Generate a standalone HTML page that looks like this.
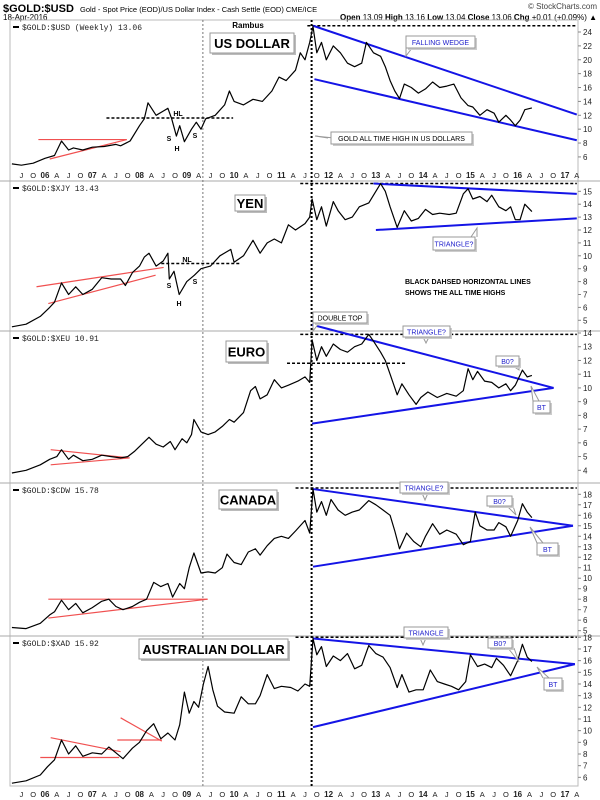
<!DOCTYPE html>
<html><head><meta charset="utf-8"><title>$GOLD:$USD multi-currency chart</title>
<style>
body{margin:0;background:#fff;width:600px;height:800px;overflow:hidden;font-family:"Liberation Sans",sans-serif;}
svg{display:block}
</style></head>
<body>
<svg id="chart" width="600" height="800" viewBox="0 0 600 800" xmlns="http://www.w3.org/2000/svg">
<rect x="0" y="0" width="600" height="800" fill="#fff"/>
<text x="3" y="12" font-size="11" font-weight="bold" fill="#000">$GOLD:$USD</text>
<text x="80" y="12" font-size="7.5" fill="#000">Gold - Spot Price (EOD)/US Dollar Index - Cash Settle (EOD) CME/ICE</text>
<text x="3" y="20" font-size="8" fill="#000">18-Apr-2016</text>
<text x="597" y="9" font-size="8" fill="#444" text-anchor="end">© StockCharts.com</text>
<text x="597" y="20" font-size="8" fill="#000" text-anchor="end"><tspan font-weight="bold">Open</tspan> 13.09 <tspan font-weight="bold">High</tspan> 13.16 <tspan font-weight="bold">Low</tspan> 13.04 <tspan font-weight="bold">Close</tspan> 13.06 <tspan font-weight="bold">Chg</tspan> +0.01 (+0.09%) ▲</text>
<g id="layer"></g>
</svg>
<script>
// ---------- DATA ----------
const p1Times=[2005.3,2005.5,2005.75,2006.0,2006.2,2006.35,2006.5,2006.6,2006.8,2007.0,2007.25,2007.5,2007.6,2007.8,2008.0,2008.1,2008.18,2008.35,2008.5,2008.6,2008.68,2008.78,2008.85,2008.95,2009.1,2009.2,2009.3,2009.4,2009.6,2009.8,2009.9,2010.0,2010.2,2010.4,2010.6,2010.8,2010.95,2011.1,2011.3,2011.4,2011.5,2011.6,2011.67,2011.75,2011.85,2011.95,2012.1,2012.25,2012.4,2012.55,2012.7,2012.8,2012.95,2013.1,2013.2,2013.3,2013.4,2013.5,2013.6,2013.75,2013.9,2014.05,2014.2,2014.35,2014.5,2014.65,2014.8,2014.95,2015.05,2015.2,2015.35,2015.5,2015.6,2015.75,2015.85,2015.95,2016.05,2016.15,2016.3];
const p1Values=[5.0,4.8,5.1,5.8,6.2,8.3,7.0,7.3,7.0,7.4,7.5,7.8,7.6,8.3,10.5,11.5,13.8,12.0,12.6,13.0,11.5,9.0,10.5,8.2,10.0,11.0,10.0,11.5,12.0,13.5,15.5,14.0,13.5,14.3,14.0,15.5,17.5,17.0,18.5,21.0,20.0,22.5,24.8,21.0,22.5,20.0,22.0,21.0,19.5,19.0,19.5,22.5,21.0,20.5,19.0,17.0,15.5,14.4,16.5,16.0,15.2,15.8,16.8,16.0,16.2,16.5,14.5,13.4,13.2,12.0,12.8,12.3,11.0,12.0,11.3,10.5,11.3,12.8,13.06];
const p2Times=[2005.3,2005.6,2005.9,2006.1,2006.2,2006.35,2006.5,2006.65,2006.8,2007.0,2007.2,2007.4,2007.6,2007.7,2007.85,2008.0,2008.1,2008.2,2008.35,2008.5,2008.6,2008.63,2008.73,2008.84,2009.0,2009.16,2009.3,2009.5,2009.7,2009.93,2010.0,2010.2,2010.4,2010.55,2010.7,2010.85,2011.0,2011.15,2011.3,2011.5,2011.6,2011.65,2011.75,2011.85,2011.95,2012.1,2012.2,2012.35,2012.5,2012.65,2012.85,2013.1,2013.2,2013.3,2013.45,2013.6,2013.75,2013.9,2014.05,2014.2,2014.35,2014.55,2014.7,2014.85,2014.95,2015.05,2015.2,2015.35,2015.45,2015.6,2015.75,2015.85,2015.95,2016.05,2016.15,2016.3];
const p2Values=[4.5,4.7,5.3,6.0,6.4,7.9,7.0,7.6,7.0,7.4,8.3,8.2,8.2,7.7,8.7,9.2,9.9,10.2,9.2,9.6,10.2,8.2,8.8,7.0,8.0,8.5,9.0,9.2,10.0,10.5,9.5,10.0,11.2,10.2,11.0,11.3,11.0,12.4,12.0,12.5,13.0,14.4,12.8,13.8,12.3,14.2,13.5,12.8,13.0,13.8,14.1,15.6,15.0,13.8,12.2,13.5,12.7,12.9,13.6,13.2,13.3,13.2,13.3,14.8,15.2,14.4,14.6,14.2,14.7,13.8,13.5,13.8,12.8,12.8,14.0,13.43];
const p3Times=[2005.3,2005.6,2005.9,2006.1,2006.25,2006.35,2006.5,2006.6,2006.8,2007.0,2007.2,2007.4,2007.6,2007.75,2007.9,2008.05,2008.2,2008.35,2008.5,2008.65,2008.75,2008.9,2009.0,2009.1,2009.15,2009.3,2009.45,2009.6,2009.75,2009.9,2010.0,2010.2,2010.35,2010.45,2010.55,2010.7,2010.85,2011.0,2011.15,2011.35,2011.5,2011.6,2011.65,2011.75,2011.85,2011.95,2012.1,2012.25,2012.4,2012.55,2012.7,2012.85,2012.95,2013.1,2013.2,2013.3,2013.45,2013.55,2013.7,2013.85,2013.95,2014.1,2014.3,2014.5,2014.7,2014.85,2014.95,2015.05,2015.15,2015.3,2015.45,2015.6,2015.75,2015.85,2015.95,2016.1,2016.2,2016.3];
const p3Values=[3.8,4.0,4.4,4.8,5.0,5.5,4.8,5.1,4.7,4.8,5.1,5.0,4.9,5.0,5.4,5.9,6.4,5.9,5.7,6.1,5.5,6.3,6.0,6.6,7.7,6.8,6.6,6.8,7.2,7.7,7.5,8.2,9.8,10.1,9.2,9.5,10.6,10.0,10.2,10.5,10.8,10.4,13.5,12.0,13.0,12.3,13.2,12.8,12.6,13.0,13.2,13.9,13.4,12.6,12.0,11.0,9.5,10.3,9.5,8.8,9.3,9.7,9.3,9.6,9.4,9.8,11.4,10.6,11.2,10.5,10.4,10.0,10.3,9.8,10.2,11.3,10.8,10.91];
const p4Times=[2005.3,2005.6,2005.9,2006.1,2006.2,2006.35,2006.5,2006.65,2006.8,2007.0,2007.2,2007.35,2007.5,2007.65,2007.85,2008.0,2008.15,2008.3,2008.45,2008.6,2008.7,2008.85,2008.95,2009.05,2009.15,2009.3,2009.45,2009.6,2009.75,2009.85,2010.0,2010.15,2010.3,2010.45,2010.55,2010.7,2010.85,2011.0,2011.15,2011.3,2011.5,2011.6,2011.67,2011.75,2011.85,2011.95,2012.05,2012.2,2012.35,2012.5,2012.65,2012.85,2013.0,2013.15,2013.3,2013.4,2013.5,2013.65,2013.8,2013.95,2014.05,2014.2,2014.35,2014.5,2014.7,2014.85,2015.0,2015.1,2015.2,2015.35,2015.5,2015.6,2015.75,2015.85,2016.0,2016.1,2016.2,2016.3];
const p4Values=[5.3,5.2,5.7,6.5,6.8,7.9,7.0,7.6,6.7,7.2,7.8,8.0,7.3,7.0,7.3,7.7,8.0,9.6,9.2,9.5,8.2,9.5,9.0,11.0,12.4,10.5,10.6,10.5,11.0,12.3,11.5,11.3,12.5,12.8,12.2,13.1,13.8,14.0,13.8,14.5,15.5,14.3,18.5,16.3,17.3,16.0,17.5,16.5,16.0,16.3,16.5,17.4,17.0,16.5,16.0,14.5,12.8,14.3,13.5,13.0,14.0,15.2,14.2,14.6,14.2,13.2,13.5,16.3,15.0,14.6,14.6,15.3,14.9,14.0,15.5,17.1,16.3,15.78];
const p5Times=[2005.3,2005.6,2005.9,2006.05,2006.2,2006.35,2006.5,2006.65,2006.8,2007.0,2007.2,2007.35,2007.5,2007.65,2007.85,2008.0,2008.15,2008.3,2008.45,2008.6,2008.75,2008.85,2008.95,2009.05,2009.15,2009.25,2009.35,2009.45,2009.55,2009.65,2009.8,2010.0,2010.15,2010.3,2010.45,2010.55,2010.7,2010.85,2011.0,2011.2,2011.35,2011.5,2011.6,2011.67,2011.75,2011.85,2011.95,2012.1,2012.25,2012.4,2012.55,2012.7,2012.85,2013.0,2013.15,2013.3,2013.45,2013.55,2013.7,2013.85,2014.0,2014.15,2014.3,2014.45,2014.6,2014.75,2014.9,2015.0,2015.15,2015.3,2015.45,2015.55,2015.7,2015.85,2016.0,2016.1,2016.2,2016.3];
const p5Values=[5.5,5.7,6.2,6.9,7.5,9.2,8.0,8.7,7.8,8.1,8.0,8.6,8.1,7.6,8.5,9.0,10.0,10.6,9.3,9.8,9.2,10.5,13.3,11.5,12.5,12.0,14.0,15.5,13.5,12.1,11.6,11.5,12.9,12.3,12.3,13.0,14.8,13.6,13.8,13.7,13.4,14.0,13.8,17.9,16.5,17.2,15.5,16.4,16.0,16.6,15.3,15.6,17.3,16.6,16.3,15.4,13.7,14.8,13.3,13.5,13.5,15.2,14.2,14.0,13.8,13.5,14.2,16.5,15.5,15.7,15.4,16.2,15.6,14.7,16.0,17.4,16.3,15.92];
const p1Ticks=[6,8,10,12,14,16,18,20,22,24];
const p2Ticks=[5,6,7,8,9,10,11,12,13,14,15];
const p3Ticks=[4,5,6,7,8,9,10,11,12,13,14];
const p4Ticks=[5,6,7,8,9,10,11,12,13,14,15,16,17,18];
const p5Ticks=[6,7,8,9,10,11,12,13,14,15,16,17,18];
const monthLabels=['J','O','06','A','J','O','07','A','J','O','08','A','J','O','09','A','J','O','10','A','J','O','11','A','J','O','12','A','J','O','13','A','J','O','14','A','J','O','15','A','J','O','16','A','J','O','17','A'];
const legendTexts=['$GOLD:$USD (Weekly) 13.06','$GOLD:$XJY 13.43','$GOLD:$XEU 10.91','$GOLD:$CDW 15.78','$GOLD:$XAD 15.92'];
const panelTitles=['US DOLLAR','YEN','EURO','CANADA','AUSTRALIAN DOLLAR'];

// ---------- SCALES / LAYOUT ----------
const NS='http://www.w3.org/2000/svg';
const layer=document.getElementById('layer');
const X0=45, PXY=47.27, LEFT=10, RIGHT=578;
function xs(t){return X0+(t-2006)*PXY;}
const panels=[
 {top:20,bottom:181,refV:24,refY:32,k:6.94},
 {top:181,bottom:331,refV:15,refY:191.3,k:12.9},
 {top:331,bottom:483,refV:14,refY:333,k:13.73},
 {top:483,bottom:636,refV:18,refY:494.3,k:10.49},
 {top:636,bottom:786,refV:18,refY:637.3,k:11.67}
];
function ys(p,v){return panels[p].refY+(panels[p].refV-v)*panels[p].k;}
function mk(tag,attrs,parent){const e=document.createElementNS(NS,tag);for(const k in attrs)e.setAttribute(k,attrs[k]);(parent||layer).appendChild(e);return e;}
function txt(x,y,s,size,attrs,parent){const e=mk('text',Object.assign({x:x,y:y,'font-size':size,'font-family':'"Liberation Sans",sans-serif'},attrs||{}),parent);e.textContent=s;return e;}

const seriesT=[p1Times,p2Times,p3Times,p4Times,p5Times];
const seriesV=[p1Values,p2Values,p3Values,p4Values,p5Values];
const ticks=[p1Ticks,p2Ticks,p3Ticks,p4Ticks,p5Ticks];

const frame=mk('rect',{x:LEFT,y:20,width:RIGHT-LEFT,height:766,fill:'none',stroke:'#bbb','stroke-width':1});


panels.forEach((pn,i)=>{
  if(i>0){const s=mk('line',{x1:0,x2:600,y1:pn.top,y2:pn.top,stroke:'#aaa','stroke-width':1});
    
    }
});

ticks.forEach((tk,p)=>{
  const g=mk('g',{});
  
  
  tk.forEach(v=>{
    mk('line',{x1:RIGHT,x2:RIGHT+3,y1:ys(p,v),y2:ys(p,v),stroke:'#888'},g);
    const t=txt(RIGHT+5,ys(p,v)+3,String(v),8,{fill:'#222'},g);
    
    
  });
});

function xLabels(y,name){
  const g=mk('g',{});
  
  
  monthLabels.forEach((s,i)=>{
    const t=2005.5+i*0.25;
    const bold=/\d/.test(s);
    const e=txt(xs(t),y,s,bold?8:7.5,{'text-anchor':'middle',fill:'#222','font-weight':bold?'bold':'normal'},g);
    
    
  });
}
xLabels(178,'x-axis-top-panel');
xLabels(797,'x-axis-bottom');

const v1=mk('line',{x1:xs(2009.34),x2:xs(2009.34),y1:20,y2:786,stroke:'#777','stroke-width':1,'stroke-dasharray':'2,2'});


const v2=mk('line',{x1:xs(2011.64),x2:xs(2011.64),y1:20,y2:786,stroke:'#000','stroke-width':2,'stroke-dasharray':'2,2'});



function seg(p,t1,v1_,t2,v2_,color,w,dash,name){
  const a={x1:xs(t1),y1:ys(p,v1_),x2:xs(t2),y2:ys(p,v2_),stroke:color,'stroke-width':w};
  if(dash)a['stroke-dasharray']=dash;
  const e=mk('line',a);
  
  
}
const BL='#1414e6', RD='#f05050';
seg(0,2011.55,24.9,2017.25,24.9,'#000',1.5,'3,2','ath-line-usd');
seg(1,2011.4,15.6,2017.25,15.6,'#000',1.5,'3,2','ath-line-yen');
seg(2,2011.4,13.9,2017.25,13.9,'#000',1.5,'3,2','ath-line-euro');
seg(3,2011.3,18.6,2017.25,18.6,'#000',1.5,'3,2','ath-line-canada');
seg(4,2011.3,18.0,2017.25,18.0,'#000',1.5,'3,2','ath-line-aud');
seg(0,2007.3,11.6,2009.98,11.6,'#000',1.5,'3,2','neckline-usd');
seg(1,2008.46,9.4,2010.12,9.4,'#000',1.5,'3,2','neckline-yen');
seg(2,2011.12,11.8,2013.64,11.8,'#000',1.5,'3,2','support-line-euro');
seg(0,2011.67,24.9,2017.25,12.1,BL,2,null,'wedge-upper-usd');
seg(0,2011.7,17.2,2017.25,8.4,BL,2,null,'wedge-lower-usd');
seg(1,2012.95,15.6,2017.25,14.8,BL,2,null,'triangle-upper-yen');
seg(1,2013.0,12.0,2017.25,12.9,BL,2,null,'triangle-lower-yen');
seg(2,2011.65,14.6,2016.76,10.0,BL,2,null,'triangle-upper-euro');
seg(2,2011.65,7.4,2016.76,10.0,BL,2,null,'triangle-lower-euro');
seg(3,2011.67,18.5,2017.17,15.0,BL,2,null,'triangle-upper-canada');
seg(3,2011.67,11.1,2017.17,15.0,BL,2,null,'triangle-lower-canada');
seg(4,2011.67,17.9,2017.21,15.7,BL,2,null,'triangle-upper-aud');
seg(4,2011.67,10.3,2017.21,15.7,BL,2,null,'triangle-lower-aud');
seg(0,2005.86,8.5,2007.73,8.5,RD,1.2,null,'red-resistance-usd');
seg(0,2006.1,5.7,2007.73,8.5,RD,1.2,null,'red-support-usd');
seg(1,2005.82,7.6,2008.51,9.1,RD,1.2,null,'red-channel-upper-yen');
seg(1,2006.07,6.3,2008.34,8.5,RD,1.2,null,'red-channel-lower-yen');
seg(2,2006.12,5.5,2007.79,4.9,RD,1.2,null,'red-triangle-upper-euro');
seg(2,2006.12,4.4,2007.79,4.9,RD,1.2,null,'red-triangle-lower-euro');
seg(3,2006.07,8.0,2009.44,8.0,RD,1.2,null,'red-resistance-canada');
seg(3,2006.07,6.2,2009.44,8.0,RD,1.2,null,'red-support-canada');
seg(4,2006.12,9.4,2007.6,8.2,RD,1.2,null,'red-upper-aud-1');
seg(4,2005.9,7.7,2007.57,7.7,RD,1.2,null,'red-support-aud-1');
seg(4,2007.6,11.1,2008.47,9.1,RD,1.2,null,'red-upper-aud-2');
seg(4,2007.53,9.2,2008.47,9.2,RD,1.2,null,'red-support-aud-2');

const seriesNames=['price-line-usd','price-line-yen','price-line-euro','price-line-canada','price-line-aud'];
seriesT.forEach((T,p)=>{
  const V=seriesV[p];
  const d=T.map((t,i)=>(i?'L':'M')+xs(t).toFixed(1)+','+ys(p,V[i]).toFixed(1)).join(' ');
  const e=mk('path',{d:d,fill:'none',stroke:'#000','stroke-width':1.2,'stroke-linejoin':'round'});
  
  
});

legendTexts.forEach((s,p)=>{
  const y=panels[p].top+7;
  mk('line',{x1:13,x2:19,y1:y,y2:y,stroke:'#000','stroke-width':2});
  const e=txt(22,y+3,s,8,{'font-family':'"Liberation Mono",monospace',fill:'#222'});
  
  
});

const titleBoxes=[[210,33,84,20],[235,195,30,16],[226,341,41,21],[219,490,58,19],[139,639,149,20]];
titleBoxes.forEach((b,i)=>{
  mk('rect',{x:b[0]+2,y:b[1]+2,width:b[2],height:b[3],fill:'#bbb'});
  mk('rect',{x:b[0],y:b[1],width:b[2],height:b[3],fill:'#fff',stroke:'#999'});
  const e=txt(b[0]+b[2]/2,b[1]+b[3]/2+5,panelTitles[i],13,{'text-anchor':'middle','font-weight':'bold',fill:'#000'});
  
  
});

function callout(x,y,w,h,s,color,px,py,fx,fy,name){
  if(px!==null){mk('polyline',{points:(fx-3)+','+fy+' '+px+','+py+' '+(fx+3)+','+fy,fill:'#fff',stroke:'#999'});}
  mk('rect',{x:x+2,y:y+2,width:w,height:h,fill:'#ccc'});
  mk('rect',{x:x,y:y,width:w,height:h,fill:'#fff',stroke:'#999'});
  const e=txt(x+w/2,y+h/2+3,s,7,{'text-anchor':'middle',fill:color});
  
  
}
callout(406,36,69,12,'FALLING WEDGE','#2222cc',406,56,409,48,'callout-falling-wedge');
callout(331,132,141,12,'GOLD ALL TIME HIGH IN US DOLLARS','#000',315,136,331,138,'callout-gold-ath');
callout(433,237,42,13,'TRIANGLE?','#2222cc',477,228,474,237,'callout-triangle-yen');
callout(313,312,54,11,'DOUBLE TOP','#000',313,331,316,323,'callout-double-top');
callout(403,326,47,11,'TRIANGLE?','#2222cc',426,343,426,337,'callout-triangle-euro');
callout(496,356,23,10,'B0?','#2222cc',519,370,516,366,'callout-bo-euro');
callout(533,401,17,12,'BT','#2222cc',531,386,536,401,'callout-bt-euro');
callout(400,482,48,11,'TRIANGLE?','#2222cc',425,500,425,493,'callout-triangle-canada');
callout(487,496,25,10,'B0?','#2222cc',516,515,510,506,'callout-bo-canada');
callout(537,543,21,12,'BT','#2222cc',530,527,540,543,'callout-bt-canada');
callout(404,627,44,11,'TRIANGLE','#2222cc',423,645,423,638,'callout-triangle-aud');
callout(488,638,24,10,'B0?','#2222cc',519,662,511,648,'callout-bo-aud');
callout(544,678,18,12,'BT','#2222cc',537,667,546,678,'callout-bt-aud');

const notes=[[248,28,'Rambus',8,'bold'],[178,116,'HL',7,'bold'],[169,141,'S',7,'bold'],[177,151,'H',7,'bold'],[195,138,'S',7,'bold'],
 [187,262,'NL',7,'bold'],[169,288,'S',7,'bold'],[179,306,'H',7,'bold'],[195,284,'S',7,'bold']];
notes.forEach(n=>{
  const e=txt(n[0],n[1],n[2],n[3],{'text-anchor':'middle','font-weight':n[4],fill:'#000'});
  
  
});
const n1=txt(405,284,'BLACK DAHSED HORIZONTAL LINES',7,{'font-weight':'bold',fill:'#000'});


const n2=txt(405,295,'SHOWS THE ALL TIME HIGHS',7,{'font-weight':'bold',fill:'#000'});


</script>
</body></html>
